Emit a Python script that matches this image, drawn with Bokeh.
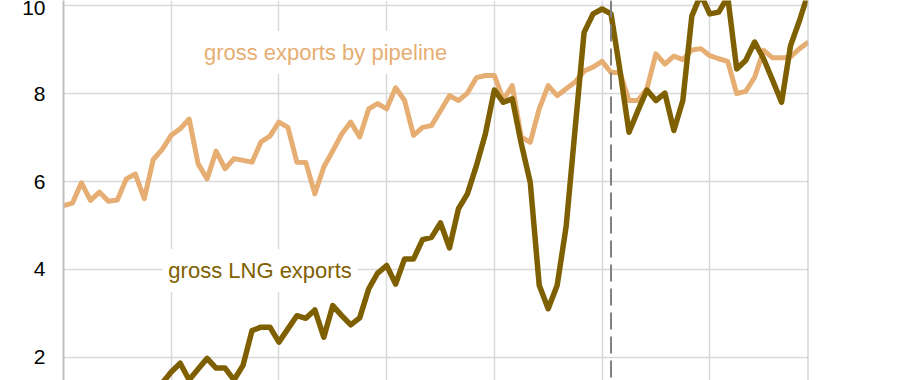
import pandas as pd
from bokeh.plotting import figure
from bokeh.models import Label, Span, FixedTicker, Range1d
from bokeh.embed import file_html
from bokeh.resources import INLINE

# Monthly observations, Jan 2016 .. Dec 2022 (Bcf/d)
months = pd.date_range("2016-01-01", periods=84, freq="MS")

pipeline_exports = [
    5.45, 5.51, 5.97, 5.57, 5.76, 5.55, 5.58, 6.06, 6.17, 5.61, 6.50, 6.73,
    7.05, 7.20, 7.42, 6.40, 6.06, 6.69, 6.29, 6.52, 6.48, 6.44, 6.90, 7.03,
    7.35, 7.23, 6.44, 6.43, 5.72, 6.33, 6.70, 7.08, 7.35, 7.01, 7.65, 7.77,
    7.65, 8.13, 7.84, 7.05, 7.23, 7.27, 7.61, 7.95, 7.84, 8.01, 8.36, 8.41,
    8.41, 7.86, 8.18, 7.01, 6.89, 7.65, 8.18, 7.95, 8.11, 8.26, 8.51, 8.60,
    8.73, 8.48, 8.48, 7.84, 7.84, 8.11, 8.90, 8.67, 8.85, 8.77, 8.99, 9.02,
    8.86, 8.79, 8.73, 8.00, 8.05, 8.37, 8.98, 8.81, 8.81, 8.83, 9.02, 9.17,
]

lng_exports = [
    0.05, 0.10, 0.20, 0.35, 0.40, 0.50, 0.55, 0.60, 0.70, 0.80, 1.10, 1.42,
    1.67, 1.87, 1.49, 1.74, 1.98, 1.76, 1.76, 1.49, 1.82, 2.61, 2.69, 2.69,
    2.35, 2.65, 2.95, 2.89, 3.08, 2.46, 3.18, 2.95, 2.74, 2.90, 3.56, 3.92,
    4.09, 3.67, 4.24, 4.24, 4.68, 4.73, 5.06, 4.49, 5.38, 5.72, 6.36, 7.08,
    8.08, 7.80, 7.88, 6.86, 5.98, 3.64, 3.11, 3.64, 4.98, 7.20, 9.39, 9.81,
    9.92, 9.81, 8.52, 7.12, 7.61, 8.08, 7.84, 8.01, 7.16, 7.84, 9.76, 10.25,
    9.81, 9.85, 10.20, 8.56, 8.75, 9.17, 8.79, 8.30, 7.80, 9.09, 9.66, 10.30,
]

y_ticks = [2, 4, 6, 8, 10]
marker_month = "2021-02"
label_pipeline = "gross exports by pipeline"
label_lng = "gross LNG exports"

PIPE_COLOR = "#E6AE73"
LNG_COLOR = "#7F6000"
FONT = "Liberation Sans"

x = list(range(len(months)))
year_starts = [i for i, d in enumerate(months) if d.month == 1]
marker_idx = list(months.strftime("%Y-%m")).index(marker_month)

p = figure(
    width=920, height=380,
    output_backend="svg", toolbar_location=None,
    x_range=Range1d(0, len(months) - 1),
    y_range=Range1d(1.477, 10.114),
    x_axis_location=None,
    min_border_left=63, min_border_right=112,
    min_border_top=0, min_border_bottom=0,
)
p.outline_line_color = None
p.background_fill_color = "white"
p.border_fill_color = "white"

# grids
p.xgrid.ticker = FixedTicker(ticks=year_starts)
p.xgrid.grid_line_color = "#d9d9d9"
p.xgrid.grid_line_width = 1.5
p.ygrid.grid_line_color = "#d9d9d9"
p.ygrid.grid_line_width = 1.5

# y axis
p.yaxis.ticker = FixedTicker(ticks=y_ticks)
p.yaxis.major_tick_out = 0
p.yaxis.major_tick_in = 0
p.yaxis.minor_tick_line_color = None
p.yaxis.axis_line_color = "#bfbfbf"
p.yaxis.axis_line_width = 2
p.yaxis.major_label_standoff = 18
p.yaxis.major_label_text_font = FONT
p.yaxis.major_label_text_font_size = "21px"
p.yaxis.major_label_text_color = "#000000"

# right frame edge
p.add_layout(Span(location=len(months) - 1, dimension="height",
                  line_color="#bfbfbf", line_width=2))

# series
p.line(x, pipeline_exports, line_color=PIPE_COLOR, line_width=5, line_join="round")
p.line(x, lng_exports, line_color=LNG_COLOR, line_width=5.5, line_join="round")

# dashed marker
p.add_layout(Span(location=marker_idx, dimension="height",
                  line_color="#808080", line_width=2, line_dash="17 7"))

# labels
pad = dict(left=6, right=6, top=9, bottom=9)
p.add_layout(Label(x=29.2, y=8.93, text=label_pipeline, text_align="center",
                   text_baseline="middle", text_color=PIPE_COLOR, text_font=FONT,
                   text_font_size="22px", background_fill_color="white", padding=pad))
p.add_layout(Label(x=21.9, y=3.97, text=label_lng, text_align="center",
                   text_baseline="middle", text_color=LNG_COLOR, text_font=FONT,
                   text_font_size="22px", background_fill_color="white", padding=pad))

open("out.html", "w").write(file_html(p, INLINE))
